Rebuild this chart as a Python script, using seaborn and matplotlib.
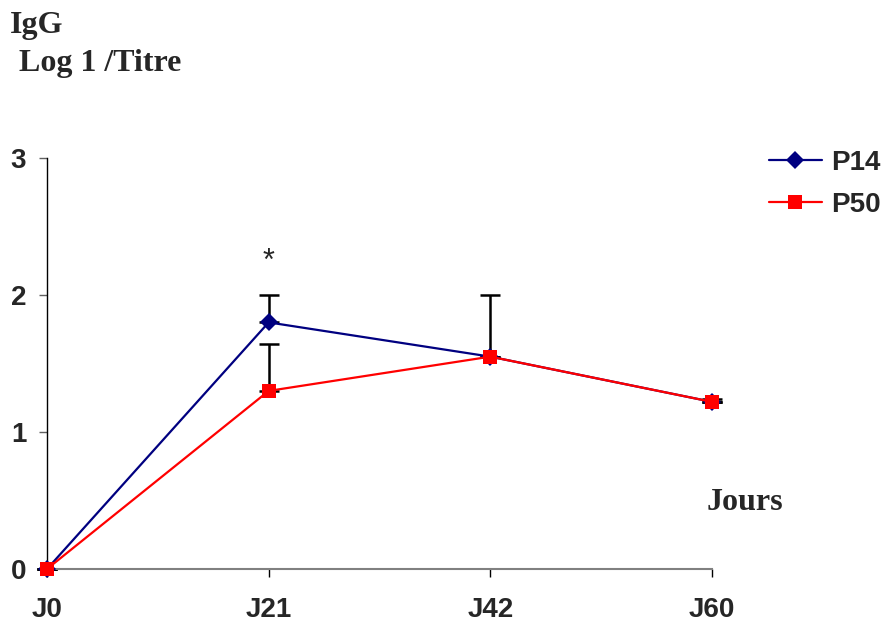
import numpy as np
import matplotlib
matplotlib.use("Agg")
import matplotlib.pyplot as plt
import pandas as pd
import seaborn as sns

jours = ["J0", "J21", "J42", "J60"]
p14 = [0.0, 1.80, 1.55, 1.22]
p50 = [0.0, 1.30, 1.55, 1.22]
# upper error bars only
err_p14 = [0.0, 0.20, 0.0, 0.0]
err_p50 = [0.0, 0.34, 0.45, 0.02]
yticks = [0, 1, 2, 3]


def main():
    sns.set_style("white")
    plt.rcParams["font.family"] = ["Liberation Sans", "DejaVu Sans"]

    df = pd.DataFrame({
        "jour": jours * 2,
        "x": list(range(len(jours))) * 2,
        "titre": p14 + p50,
        "serie": ["P14"] * 4 + ["P50"] * 4,
    })

    fig = plt.figure(figsize=(8.86, 6.26), dpi=100)
    ax = fig.add_axes([47 / 886, 1 - 569 / 626, 665 / 886, 411 / 626])

    x = np.arange(len(jours))
    ax.errorbar(x, p14, yerr=[np.zeros(4), err_p14], fmt="none", ecolor="black",
                elinewidth=1.8, capsize=7, capthick=1.8, zorder=2, clip_on=False)
    ax.errorbar(x, p50, yerr=[np.zeros(4), err_p50], fmt="none", ecolor="black",
                elinewidth=1.8, capsize=7, capthick=1.8, zorder=2, clip_on=False)

    sns.lineplot(data=df, x="x", y="titre", hue="serie", style="serie",
                 palette={"P14": "#000080", "P50": "#ff0000"},
                 markers={"P14": "D", "P50": "s"}, dashes=False,
                 markersize=9.5, markeredgewidth=0, linewidth=1.6,
                 ax=ax, zorder=3, clip_on=False)

    ax.set_xlim(0, 3)
    ax.set_ylim(0, 3)
    ax.set_xticks(x)
    ax.set_xticklabels(jours)
    ax.set_yticks(yticks)
    ax.set_xlabel("")
    ax.set_ylabel("")
    for lab in ax.get_xticklabels() + ax.get_yticklabels():
        lab.set_fontweight("bold")
        lab.set_fontsize(20)

    ax.spines["top"].set_visible(False)
    ax.spines["right"].set_visible(False)
    ax.spines["left"].set_color("black")
    ax.spines["left"].set_linewidth(1.0)
    ax.spines["bottom"].set_color("#808080")
    ax.spines["bottom"].set_linewidth(1.5)
    ax.tick_params(axis="y", direction="out", length=6, width=1, color="#606060",
                   pad=9, left=True)
    ax.tick_params(axis="x", direction="out", length=6, width=1, color="black",
                   pad=14, bottom=True)

    ax.text(1, 2.24, "*", ha="center", va="center", fontsize=22)

    handles, labels = ax.get_legend_handles_labels()
    ax.legend(handles, labels, loc="center left",
              bbox_to_anchor=(769 / 886, 1 - 184 / 626),
              bbox_transform=fig.transFigure, frameon=False,
              prop={"weight": "bold", "size": 20}, handlelength=1.9,
              handletextpad=0.35, labelspacing=0.58, borderaxespad=0,
              borderpad=0)

    serif = ["Liberation Serif", "DejaVu Serif"]
    fig.text(10 / 886, 1 - 25 / 626, "IgG", family=serif, fontweight="bold",
             fontsize=23, ha="left", va="center")
    fig.text(19 / 886, 1 - 63 / 626, "Log 1 /Titre", family=serif, fontweight="bold",
             fontsize=23, ha="left", va="center")
    fig.text(745 / 886, 1 - 502 / 626, "Jours", family=serif, fontweight="bold",
             fontsize=23, ha="center", va="center")

    fig.savefig("out.png", dpi=100)


if __name__ == "__main__":
    main()
